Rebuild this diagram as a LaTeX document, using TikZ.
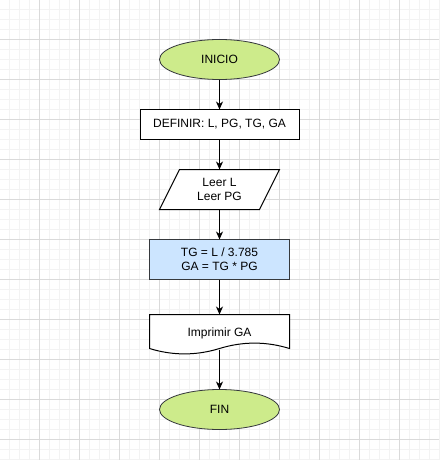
\documentclass[tikz,border=0pt]{standalone}
\usepackage{fontspec}
\setmainfont{Liberation Sans}
\usetikzlibrary{shapes.geometric,arrows.meta,calc}

\definecolor{gridminor}{HTML}{F3F3F3}
\definecolor{gridmajor}{HTML}{DADADA}
\definecolor{termfill}{HTML}{CDEB8B}
\definecolor{procfill}{HTML}{CCE5FF}
\definecolor{outline}{HTML}{36393D}

\pgfdeclarelayer{back}
\pgfsetlayers{back,main}

\begin{document}
\begin{tikzpicture}[x=1pt,y=-1pt,
  every node/.style={font=\fontsize{12}{14.4}\selectfont, align=center,
    inner sep=0pt, outer sep=0pt},
  terminal/.style={ellipse, draw=outline, fill=termfill, line width=0.8pt,
    minimum width=120pt, minimum height=40pt},
  procbox/.style={rectangle, draw=black, fill=white, line width=1pt,
    minimum width=159pt, minimum height=30pt},
  calcbox/.style={rectangle, draw=outline, fill=procfill, line width=1pt,
    minimum width=140pt, minimum height=40pt},
  ghost/.style={rectangle, minimum width=#1, minimum height=40pt},
  shapeline/.style={draw=black, fill=white, line width=1pt},
  flow/.style={draw=black, line width=1pt,
    -{Stealth[length=8pt,width=7pt,inset=2.5pt]}}
]
\useasboundingbox (0,0) rectangle (439,460);

% background grid
\begin{pgfonlayer}{back}
  \fill[white] (0,0) rectangle (439,460);
  \foreach \i in {0,...,43} {
    \draw[gridminor, line width=1pt] (\i*10+9.5,0) -- (\i*10+9.5,460);
  }
  \foreach \i in {0,...,45} {
    \draw[gridminor, line width=1pt] (0,\i*10+9.5) -- (439,\i*10+9.5);
  }
  \foreach \i in {1,...,10} {
    \draw[gridmajor, line width=1pt] (\i*40-0.5,0) -- (\i*40-0.5,460);
  }
  \foreach \i in {1,...,11} {
    \draw[gridmajor, line width=1pt] (0,\i*40-0.5) -- (439,\i*40-0.5);
  }
\end{pgfonlayer}

% flowchart nodes
\node[terminal] (inicio) at (219.5,59.5) {INICIO};
\node[procbox]  (def)    at (219.5,124.5) {DEFINIR: L, PG, TG, GA};
\node[ghost=120pt] (read) at (219.5,189.5) {Leer L\\Leer PG};
\node[calcbox]  (calc)   at (219.5,259.5) {TG = L / 3.785\\GA = TG * PG};
\node[ghost=140pt] (out) at (219.5,334.5) {\raisebox{4pt}{Imprimir GA}};
\node[terminal] (fin)    at (219.5,409.5) {FIN};

% input parallelogram and output document outlines
\begin{pgfonlayer}{back}
  \path[shapeline] ($(read.north west)+(20,0)$) -- (read.north east)
    -- ($(read.south east)+(-20,0)$) -- (read.south west) -- cycle;
  \path[shapeline] (out.north west) -- (out.north east)
    -- ($(out.north west)+(140,34)$)
    .. controls ($(out.north west)+(116.67,26.8)$) and ($(out.north west)+(93.33,26.8)$)
    .. ($(out.north west)+(70,34)$)
    .. controls ($(out.north west)+(46.67,41.2)$) and ($(out.north west)+(23.33,41.2)$)
    .. ($(out.north west)+(0,34)$) -- cycle;
\end{pgfonlayer}
\coordinate (outwave) at ($(out.north west)+(70,35)$);

% connectors
\draw[flow] (inicio) -- (def);
\draw[flow] (def) -- (read.north);
\draw[flow] (read.south) -- (calc);
\draw[flow] (calc) -- (out.north);
\draw[flow] (outwave) -- (fin);
\end{tikzpicture}
\end{document}
